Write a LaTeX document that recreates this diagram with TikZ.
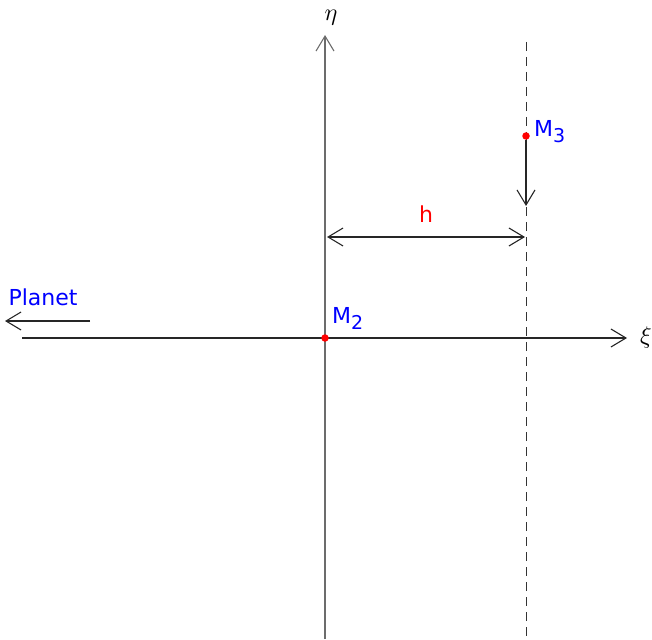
\documentclass[tikz,border=0pt]{standalone}
\usepackage{fontspec}
\setmainfont{DejaVu Sans}
\usetikzlibrary{arrows.meta}
\newcommand{\subl}[1]{\raisebox{-6pt}{\fontsize{19}{19}\selectfont #1}}
\begin{document}
\begin{tikzpicture}[x=1pt,y=-1pt,
  axis/.style={line width=1.1pt},
  tip/.style={-{Straight Barb[length=15pt,width=18pt,line width=1.1pt]}},
  lbl/.style={text=blue,font=\fontsize{22}{22}\selectfont,inner sep=0pt},
  greek/.style={inner sep=0pt},
  dot/.style={circle,fill=red,inner sep=0pt,minimum size=7.5pt}]
\useasboundingbox (0,0) rectangle (652,639);
% axes
\coordinate (vb) at (325,639);
\coordinate (vt) at (325,35);
\coordinate (hl) at (22,338);
\coordinate (hr) at (627,338);
\draw[axis,gray!85!black,tip] (vb) -- (vt);
\draw[axis,black!85,tip] (hl) -- (hr);
\node[greek] (eta) at (331,18) {\scalebox{2.4}{$\eta$}};
\node[greek] (xi) at (646,337) {\scalebox{2.4}{$\xi$}};
% dashed line
\coordinate (dt) at (526,42);
\coordinate (db) at (526,639);
\draw[line width=1pt,black!80,dash pattern=on 9pt off 6pt] (dt) -- (db);
% points
\node[dot] (m2) at (325,338) {};
\node[dot] (m3) at (526,136) {};
\node[lbl,anchor=south west] (m2l) at (332,330) {M\subl{2}};
\node[lbl,anchor=west] (m3l) at (534,132) {M\subl{3}};
% M3 velocity arrow
\coordinate (m3e) at (526,206);
\draw[axis,black!85,tip] (m3) -- (m3e);
% h
\coordinate (ha) at (327,237);
\coordinate (hb) at (525,237);
\draw[axis,black!85,{Straight Barb[length=15pt,width=18pt,line width=1.1pt]}-{Straight Barb[length=15pt,width=18pt,line width=1.1pt]}] (ha) -- (hb);
\node[text=red,font=\fontsize{22}{22}\selectfont,inner sep=0pt] (hl2) at (426,214) {h};
% planet
\node[lbl] (planet) at (43,297) {Planet};
\coordinate (pa) at (90,321);
\coordinate (pb) at (5,321);
\draw[axis,black!85,tip] (pa) -- (pb);
\end{tikzpicture}
\end{document}
